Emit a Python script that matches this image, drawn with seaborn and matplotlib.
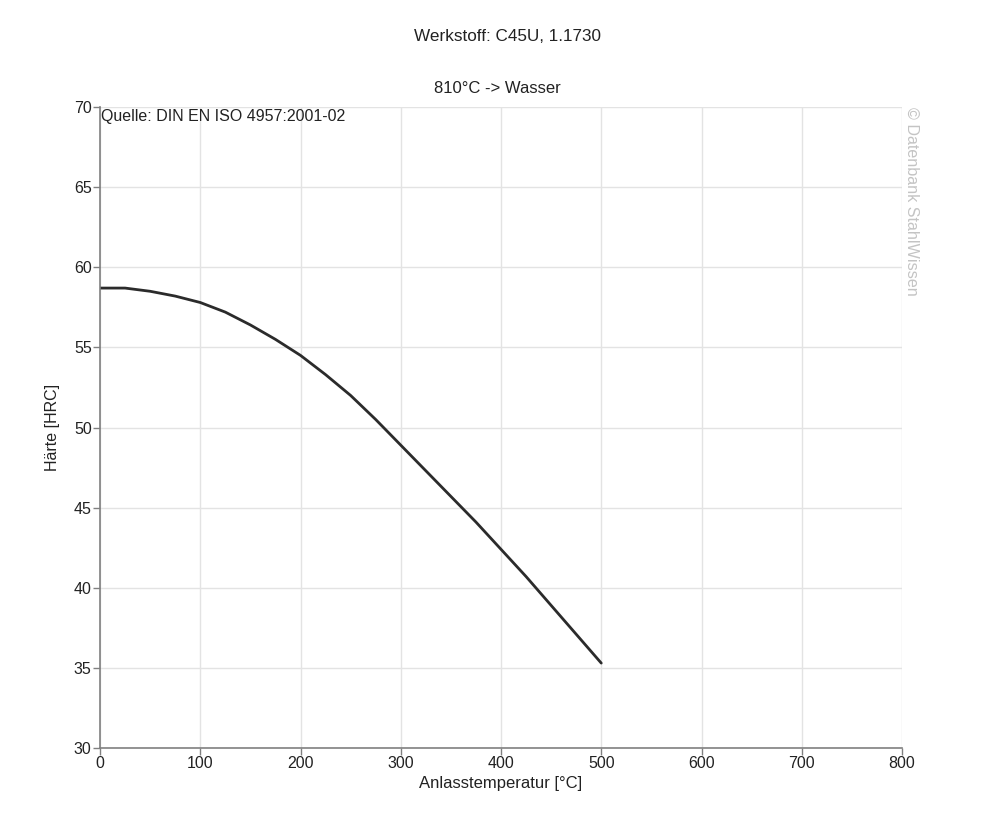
import matplotlib
matplotlib.use("Agg")
import matplotlib.pyplot as plt
import seaborn as sns
import pandas as pd

temperatur = [0, 25, 50, 75, 100, 125, 150, 175, 200, 225, 250, 275, 300,
              325, 350, 375, 400, 425, 450, 475, 500]
haerte = [58.7, 58.7, 58.5, 58.2, 57.8, 57.2, 56.4, 55.5, 54.5, 53.3, 52.0,
          50.5, 48.9, 47.3, 45.7, 44.1, 42.4, 40.7, 38.9, 37.1, 35.3]
x_ticks = [0, 100, 200, 300, 400, 500, 600, 700, 800]
y_ticks = [30, 35, 40, 45, 50, 55, 60, 65, 70]

sns.set_theme(style="white")
plt.rcParams['font.family'] = ['Liberation Sans', 'DejaVu Sans']

df = pd.DataFrame({"T": temperatur, "H": haerte})

fig = plt.figure(figsize=(10, 8.16), dpi=100)
ax = fig.add_axes([0.100, 0.0833, 0.802, 0.7856])

sns.lineplot(data=df, x="T", y="H", ax=ax, color="#2b2b2b", linewidth=2.0)

ax.set_xlim(0, 800)
ax.set_ylim(30, 70)
ax.set_xticks(x_ticks)
ax.set_yticks(y_ticks)
ax.grid(True, color="#e3e3e3", linewidth=1.0)
ax.set_axisbelow(True)
for s in ["top", "right"]:
    ax.spines[s].set_visible(False)
for s in ["left", "bottom"]:
    ax.spines[s].set_color("#808080")
    ax.spines[s].set_linewidth(1.2)
ax.tick_params(axis="both", which="both", length=5, width=1, color="#808080",
               labelsize=11.5, labelcolor="#222222", pad=1,
               left=True, bottom=True)
ax.set_xlabel("Anlasstemperatur [°C]", fontsize=12, color="#222222", labelpad=3)
ax.set_ylabel("Härte [HRC]", fontsize=11.5, color="#222222", labelpad=10)

fig.text(0.507, 0.955, "Werkstoff: C45U, 1.1730", ha="center", va="center",
         fontsize=12.3, color="#222222")
fig.text(0.497, 0.891, "810°C -> Wasser", ha="center", va="center",
         fontsize=12, color="#222222")
ax.text(0.001, 0.997, "Quelle: DIN EN ISO 4957:2001-02", transform=ax.transAxes,
        ha="left", va="top", fontsize=11.5, color="#222222")
fig.text(0.912, 0.869, "© Datenbank StahlWissen", rotation=-90, ha="center",
         va="top", fontsize=11.6, color="#c4c4c4")

fig.savefig("out.png", dpi=100)
